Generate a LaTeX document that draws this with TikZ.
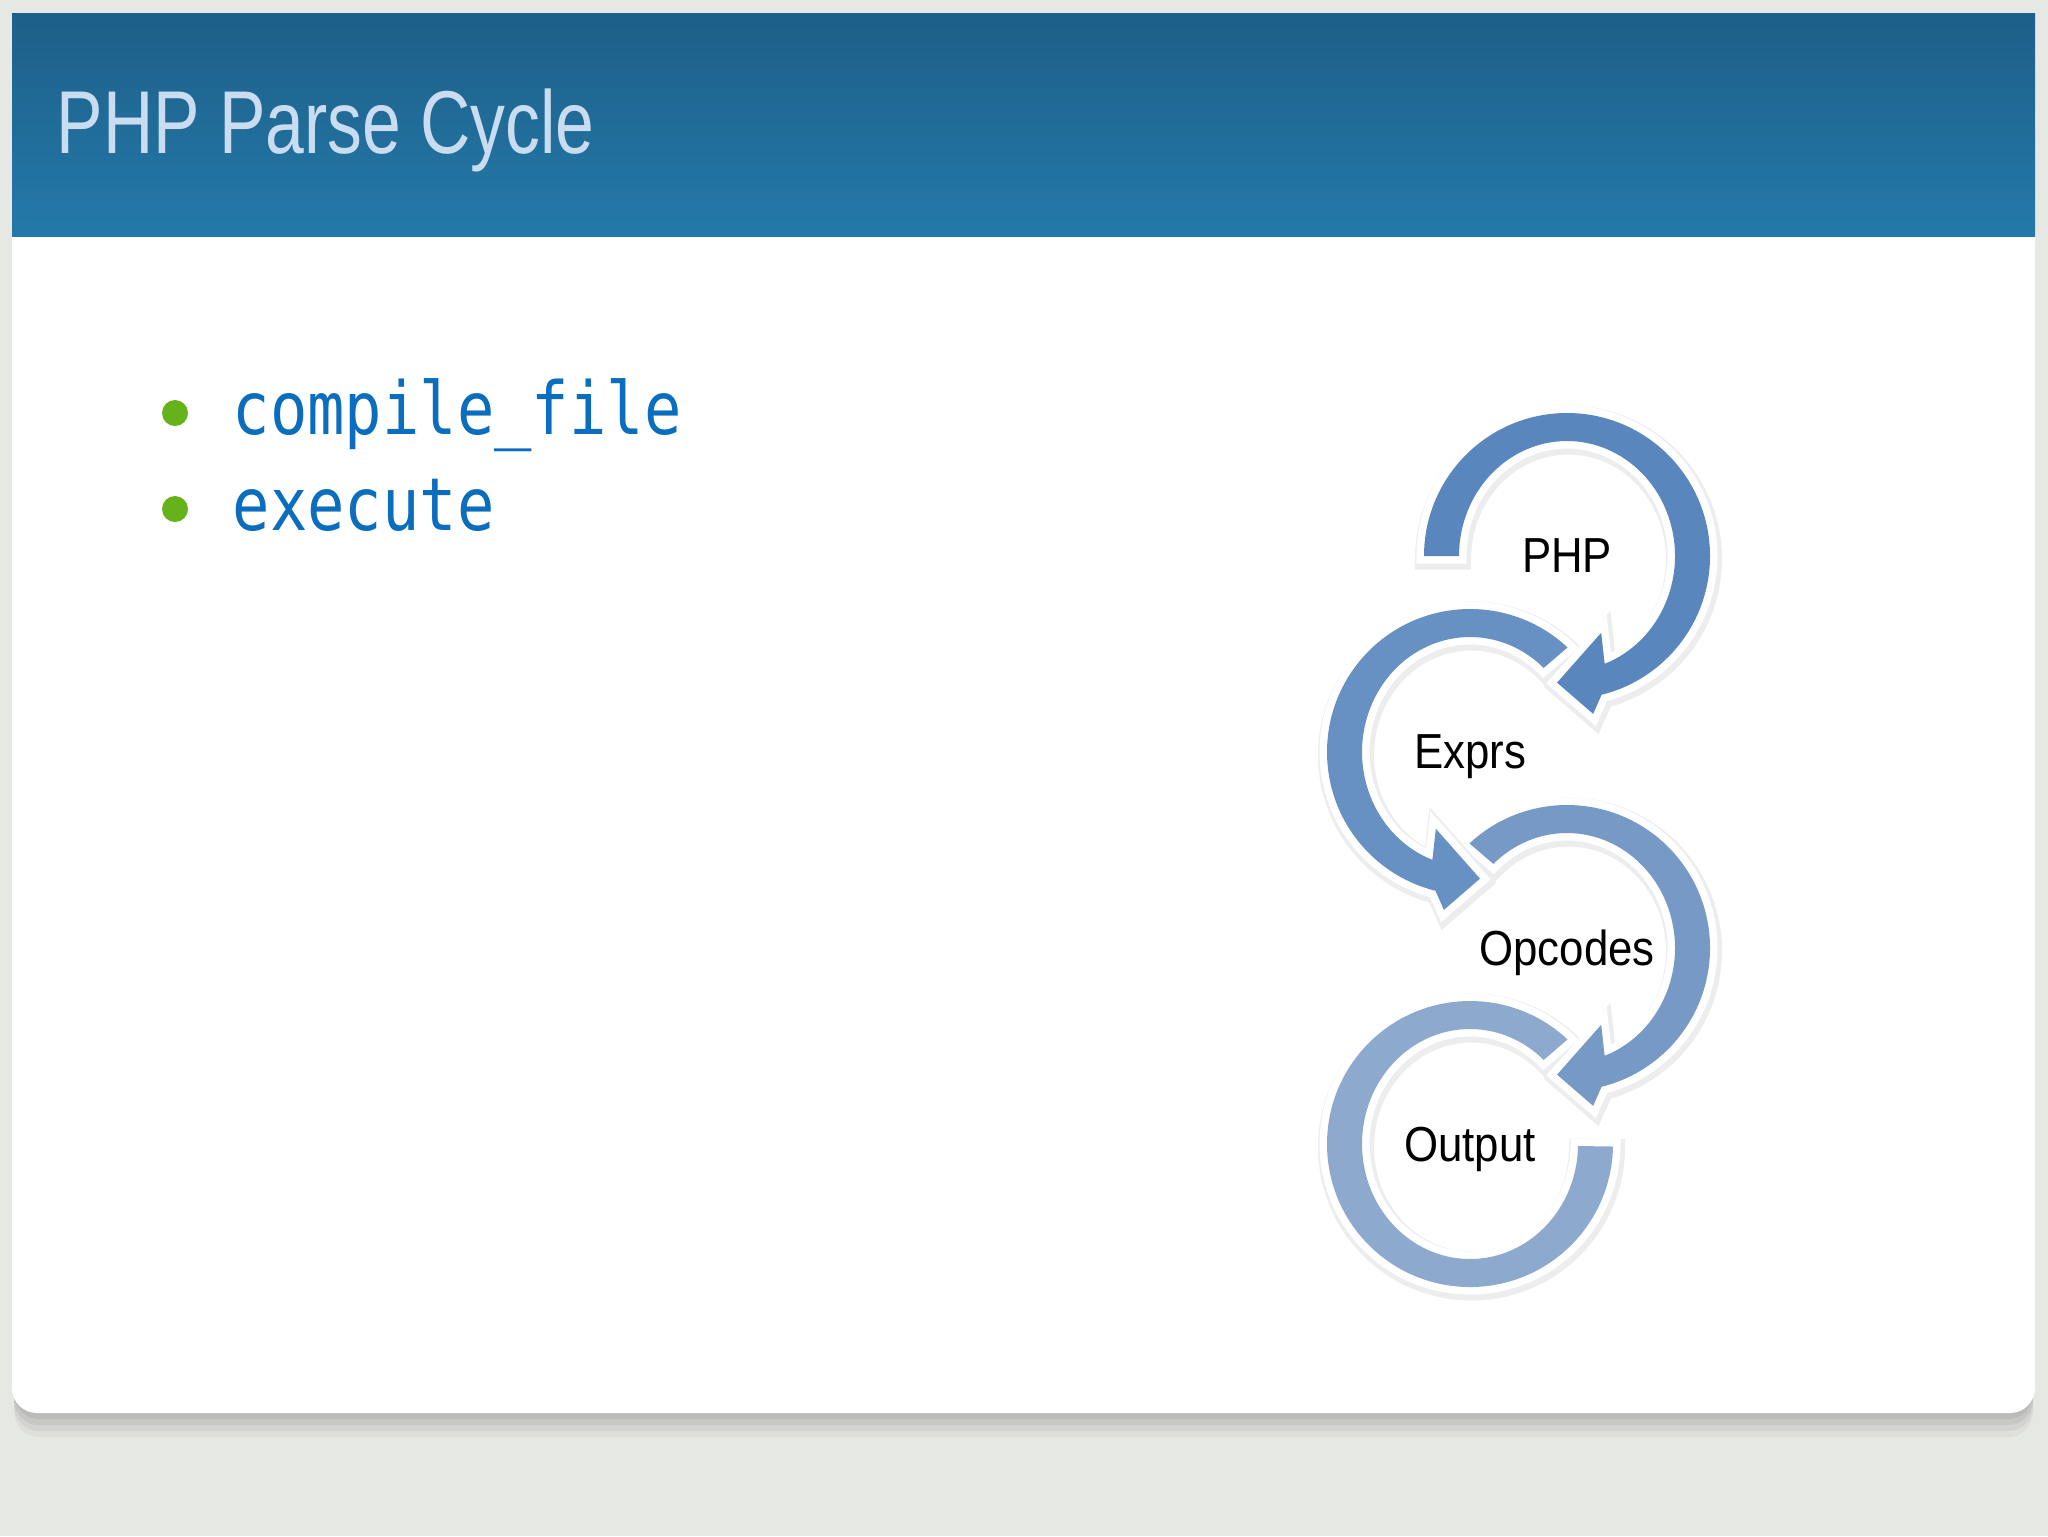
\documentclass[tikz,border=0pt]{standalone}
\usepackage{fontspec}
\setmainfont{Liberation Sans}
\newfontfamily\titlefont[FakeStretch=0.78]{Liberation Sans}
\newfontfamily\labelfont[FakeStretch=0.89]{Liberation Sans}
\newfontfamily\codefont[FakeStretch=0.85]{DejaVu Sans Mono}
\usetikzlibrary{positioning}

\definecolor{pagebg}{HTML}{E6E8E3}
\definecolor{headtop}{HTML}{1D5F88}
\definecolor{headbot}{HTML}{2479AA}
\definecolor{titlecol}{HTML}{C9DCF0}
\definecolor{codecol}{HTML}{0B6DBE}
\definecolor{dotcol}{HTML}{66B21A}
\definecolor{phpcol}{HTML}{5A86BE}
\definecolor{exprcol}{HTML}{6790C3}
\definecolor{opcol}{HTML}{7799C5}
\definecolor{outcol}{HTML}{8DA9CD}

\begin{document}
\begin{tikzpicture}[x=0.1mm, y=0.1mm,
    ring/.style={fill=#1,
      preaction={draw=black!7, line width=2.1mm, transform canvas={shift={(0.15mm,-0.3mm)}}},
      preaction={draw=white, line width=1.5mm}},
    cycletext/.style={font=\labelfont\fontsize{14}{16}\selectfont, text depth=0pt, inner sep=0pt},
    bullet/.style={circle, fill=dotcol, inner sep=0pt, minimum size=2.6mm},
    code/.style={font=\codefont\fontsize{20.8}{24}\selectfont, text=codecol, anchor=base west, inner sep=0pt}]
  \useasboundingbox (0,0) rectangle (2048,-1536);
  \fill[pagebg] (0,0) rectangle (2048,-1536);
  \foreach \d/\o in {24/0.10, 18/0.15, 12/0.2, 6/0.25} {
    \fill[black!40, opacity=\o, rounded corners=2.5mm] (14,-13-\d) rectangle (2033,-1413-\d);
  }
  \fill[white, rounded corners=2.5mm] (12,-13) rectangle (2035,-1413);
  \shade[top color=headtop, bottom color=headbot] (12,-13) rectangle (2035,-236);
  \node[anchor=base west, inner sep=0pt, text=titlecol, font=\titlefont\fontsize{25.4}{30}\selectfont] (title) at (56,-153) {PHP Parse Cycle};

  \foreach \i/\txt/\y in {1/compile\_file/434, 2/execute/530} {
    \node[bullet] (dot\i) at (175,-\y+21) {};
    \node[code] (item\i) at (232,-\y) {\txt};
  }

  \node[cycletext] (php) at (1567,-556) {PHP};
  \node[cycletext] (exprs) at (1470,-752) {Exprs};
  \node[cycletext] (opcodes) at (1567,-948) {Opcodes};
  \node[cycletext] (output) at (1470,-1144) {Output};

  \path[ring=outcol, shift={(output.center)}] (47:143) arc[start angle=47, end angle=359, radius=143]
    -- (359:108 and 115) arc[start angle=359, end angle=47, x radius=108, y radius=115] -- cycle;
  \foreach \c/\t/\col/\s in {opcodes/133/opcol/1, exprs/133/exprcol/-1, php/180/phpcol/1} {
    \path[ring=\col, shift={(\c.center)}, xscale=\s] (\t:143) arc[start angle=\t, end angle=-76, radius=143]
      -- (-80.6:160) -- (-94.5:127) -- (-66:84)
      -- (-69.6:108 and 115) arc[start angle=-69.6, end angle=\t, x radius=108, y radius=115] -- cycle;
  }
\end{tikzpicture}
\end{document}
